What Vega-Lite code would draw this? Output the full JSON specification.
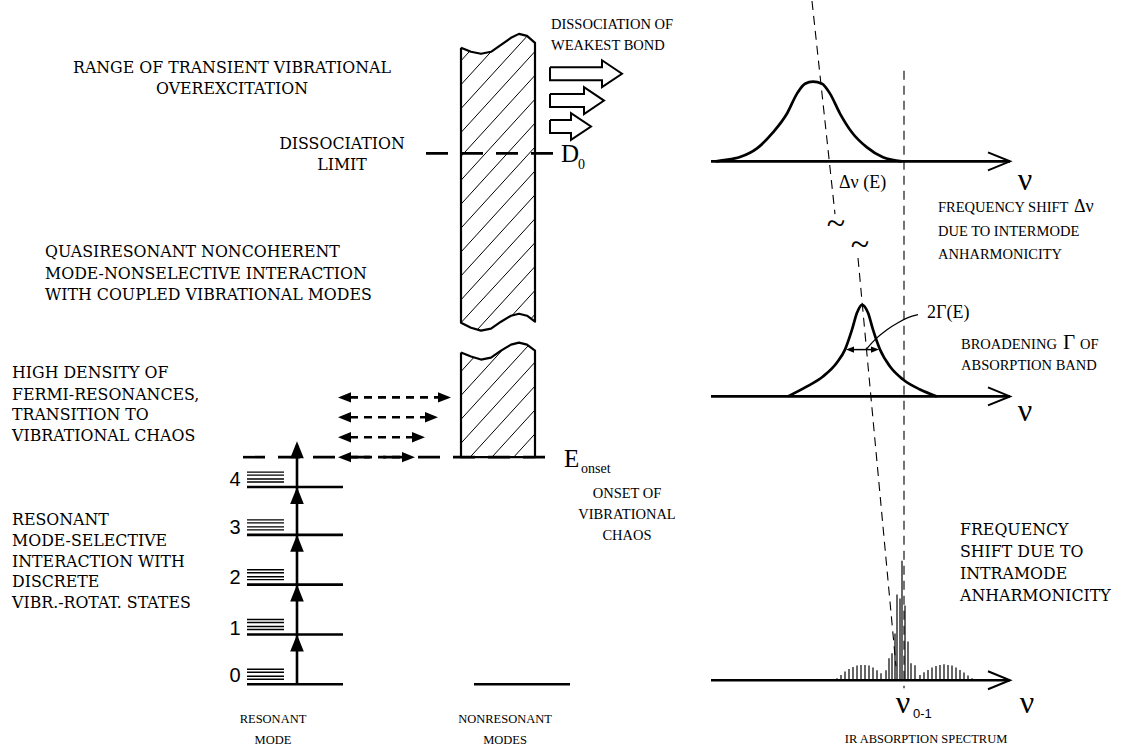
{
"$schema": "https://vega.github.io/schema/vega-lite/v6.json",
"width": 1136, "height": 747, "padding": 0,
"autosize": {"type": "fit", "contains": "padding"},
"background": "white",
"config": {"view": {"stroke": null}},
"datasets": {
"segs": [
{"k":"hatch","x":461,"y":60,"x2":469.6,"y2":50.5},
{"k":"hatch","x":461,"y":84,"x2":491,"y2":51},
{"k":"hatch","x":461,"y":108,"x2":527.2,"y2":35.2},
{"k":"hatch","x":461,"y":132,"x2":535,"y2":50.6},
{"k":"hatch","x":461,"y":156,"x2":535,"y2":74.6},
{"k":"hatch","x":461,"y":180,"x2":535,"y2":98.6},
{"k":"hatch","x":461,"y":204,"x2":535,"y2":122.6},
{"k":"hatch","x":461,"y":228,"x2":535,"y2":146.6},
{"k":"hatch","x":461,"y":252,"x2":535,"y2":170.6},
{"k":"hatch","x":461,"y":276,"x2":535,"y2":194.6},
{"k":"hatch","x":461,"y":300,"x2":535,"y2":218.6},
{"k":"hatch","x":461,"y":323,"x2":535,"y2":242.6},
{"k":"hatch","x":477.3,"y":330,"x2":535,"y2":266.6},
{"k":"hatch","x":512.5,"y":315.3,"x2":535,"y2":290.6},
{"k":"hatch","x":531,"y":319,"x2":535,"y2":314.6},
{"k":"hatch","x":461,"y":372,"x2":473.8,"y2":357.9},
{"k":"hatch","x":461,"y":396,"x2":503,"y2":349.8},
{"k":"hatch","x":461,"y":420,"x2":528.5,"y2":345.8},
{"k":"hatch","x":461,"y":444,"x2":535,"y2":362.6},
{"k":"hatch","x":470.1,"y":458,"x2":535,"y2":386.6},
{"k":"hatch","x":491.9,"y":458,"x2":535,"y2":410.6},
{"k":"hatch","x":513.7,"y":458,"x2":535,"y2":434.6},
{"k":"level","x":247,"y":488,"x2":343,"y2":488},
{"k":"level","x":247,"y":536,"x2":343,"y2":536},
{"k":"level","x":247,"y":586,"x2":343,"y2":586},
{"k":"level","x":247,"y":636,"x2":343,"y2":636},
{"k":"level","x":247,"y":686,"x2":343,"y2":686},
{"k":"level","x":474,"y":686,"x2":570,"y2":686},
{"k":"level","x":711,"y":161,"x2":1010,"y2":161},
{"k":"level","x":711,"y":397,"x2":1010,"y2":397},
{"k":"level","x":711,"y":682,"x2":1010,"y2":682},
{"k":"level","x":297,"y":686,"x2":297,"y2":446},
{"k":"rot","x":247,"y":473,"x2":284,"y2":473},
{"k":"rot","x":247,"y":476,"x2":284,"y2":476},
{"k":"rot","x":247,"y":480,"x2":284,"y2":480},
{"k":"rot","x":247,"y":483,"x2":284,"y2":483},
{"k":"rot","x":247,"y":521,"x2":284,"y2":521},
{"k":"rot","x":247,"y":524,"x2":284,"y2":524},
{"k":"rot","x":247,"y":528,"x2":284,"y2":528},
{"k":"rot","x":247,"y":531,"x2":284,"y2":531},
{"k":"rot","x":247,"y":571,"x2":284,"y2":571},
{"k":"rot","x":247,"y":574,"x2":284,"y2":574},
{"k":"rot","x":247,"y":578,"x2":284,"y2":578},
{"k":"rot","x":247,"y":581,"x2":284,"y2":581},
{"k":"rot","x":247,"y":621,"x2":284,"y2":621},
{"k":"rot","x":247,"y":624,"x2":284,"y2":624},
{"k":"rot","x":247,"y":628,"x2":284,"y2":628},
{"k":"rot","x":247,"y":631,"x2":284,"y2":631},
{"k":"rot","x":247,"y":671,"x2":284,"y2":671},
{"k":"rot","x":247,"y":674,"x2":284,"y2":674},
{"k":"rot","x":247,"y":678,"x2":284,"y2":678},
{"k":"rot","x":247,"y":681,"x2":284,"y2":681},
{"k":"dthick","x":426,"y":153,"x2":553,"y2":153},
{"k":"dthick","x":243,"y":458,"x2":556,"y2":458},
{"k":"darrow","x":350,"y":398,"x2":439,"y2":398},
{"k":"darrow","x":350,"y":418,"x2":426,"y2":418},
{"k":"darrow","x":350,"y":438,"x2":413,"y2":438},
{"k":"darrow","x":350,"y":458,"x2":403,"y2":458},
{"k":"dthin","x":812,"y":0,"x2":835,"y2":214},
{"k":"dthin","x":858,"y":258,"x2":896,"y2":668},
{"k":"dthin","x":904,"y":70,"x2":904,"y2":690},
{"k":"thin","x":851,"y":350,"x2":874,"y2":350},
{"k":"stick","x":837,"y":682,"x2":837,"y2":680},
{"k":"stick","x":841,"y":682,"x2":841,"y2":676.7},
{"k":"stick","x":845,"y":682,"x2":845,"y2":673.3},
{"k":"stick","x":849,"y":682,"x2":849,"y2":670.7},
{"k":"stick","x":853,"y":682,"x2":853,"y2":668.7},
{"k":"stick","x":857,"y":682,"x2":857,"y2":667.3},
{"k":"stick","x":861,"y":682,"x2":861,"y2":666.7},
{"k":"stick","x":865,"y":682,"x2":865,"y2":666.7},
{"k":"stick","x":869,"y":682,"x2":869,"y2":667.3},
{"k":"stick","x":873,"y":682,"x2":873,"y2":669.3},
{"k":"stick","x":877,"y":682,"x2":877,"y2":672},
{"k":"stick","x":881,"y":682,"x2":881,"y2":675},
{"k":"stick","x":886,"y":682,"x2":886,"y2":672},
{"k":"stick","x":889,"y":682,"x2":889,"y2":660},
{"k":"stick","x":892,"y":682,"x2":892,"y2":655},
{"k":"stick","x":895,"y":682,"x2":895,"y2":635},
{"k":"stick","x":897,"y":682,"x2":897,"y2":596},
{"k":"stick","x":900,"y":682,"x2":900,"y2":600},
{"k":"stick","x":902,"y":682,"x2":902,"y2":562},
{"k":"stick","x":905,"y":682,"x2":905,"y2":607},
{"k":"stick","x":908,"y":682,"x2":908,"y2":643},
{"k":"stick","x":911,"y":682,"x2":911,"y2":665},
{"k":"stick","x":915,"y":682,"x2":915,"y2":667},
{"k":"stick","x":920,"y":682,"x2":920,"y2":676.7},
{"k":"stick","x":924,"y":682,"x2":924,"y2":674},
{"k":"stick","x":928,"y":682,"x2":928,"y2":671.7},
{"k":"stick","x":932,"y":682,"x2":932,"y2":669.3},
{"k":"stick","x":936,"y":682,"x2":936,"y2":667.7},
{"k":"stick","x":940,"y":682,"x2":940,"y2":666.7},
{"k":"stick","x":944,"y":682,"x2":944,"y2":666},
{"k":"stick","x":948,"y":682,"x2":948,"y2":666.7},
{"k":"stick","x":952,"y":682,"x2":952,"y2":667.3},
{"k":"stick","x":956,"y":682,"x2":956,"y2":669.3},
{"k":"stick","x":960,"y":682,"x2":960,"y2":671.7},
{"k":"stick","x":964,"y":682,"x2":964,"y2":674.3},
{"k":"stick","x":968,"y":682,"x2":968,"y2":677.3},
{"k":"stick","x":972,"y":682,"x2":972,"y2":680}
],
"paths": [
{"g":"box","p":"ub","i":0,"x":461,"y":47},
{"g":"box","p":"ub","i":1,"x":461,"y":323},
{"g":"box","p":"ub","i":2,"x":471,"y":328},
{"g":"box","p":"ub","i":3,"x":481,"y":331},
{"g":"box","p":"ub","i":4,"x":491,"y":329},
{"g":"box","p":"ub","i":5,"x":501,"y":322},
{"g":"box","p":"ub","i":6,"x":511,"y":316},
{"g":"box","p":"ub","i":7,"x":519,"y":314},
{"g":"box","p":"ub","i":8,"x":527,"y":316},
{"g":"box","p":"ub","i":9,"x":535,"y":322},
{"g":"box","p":"ub","i":10,"x":535,"y":42},
{"g":"box","p":"ub","i":11,"x":527,"y":35},
{"g":"box","p":"ub","i":12,"x":519,"y":33},
{"g":"box","p":"ub","i":13,"x":511,"y":37},
{"g":"box","p":"ub","i":14,"x":501,"y":44},
{"g":"box","p":"ub","i":15,"x":491,"y":51},
{"g":"box","p":"ub","i":16,"x":481,"y":53},
{"g":"box","p":"ub","i":17,"x":471,"y":51},
{"g":"box","p":"ub","i":18,"x":461,"y":47},
{"g":"box","p":"lb","i":0,"x":461,"y":353},
{"g":"box","p":"lb","i":1,"x":461,"y":458},
{"g":"box","p":"lb","i":2,"x":535,"y":458},
{"g":"box","p":"lb","i":3,"x":535,"y":351},
{"g":"box","p":"lb","i":4,"x":527,"y":345},
{"g":"box","p":"lb","i":5,"x":519,"y":343},
{"g":"box","p":"lb","i":6,"x":511,"y":345},
{"g":"box","p":"lb","i":7,"x":501,"y":351},
{"g":"box","p":"lb","i":8,"x":491,"y":358},
{"g":"box","p":"lb","i":9,"x":481,"y":360},
{"g":"box","p":"lb","i":10,"x":471,"y":357},
{"g":"box","p":"lb","i":11,"x":461,"y":353},
{"g":"curve","p":"gt","i":0,"x":716,"y":161},
{"g":"curve","p":"gt","i":1,"x":722,"y":160},
{"g":"curve","p":"gt","i":2,"x":740,"y":156.7},
{"g":"curve","p":"gt","i":3,"x":757,"y":148},
{"g":"curve","p":"gt","i":4,"x":773,"y":132},
{"g":"curve","p":"gt","i":5,"x":787,"y":113},
{"g":"curve","p":"gt","i":6,"x":797,"y":93},
{"g":"curve","p":"gt","i":7,"x":805,"y":83},
{"g":"curve","p":"gt","i":8,"x":813,"y":81},
{"g":"curve","p":"gt","i":9,"x":822,"y":83},
{"g":"curve","p":"gt","i":10,"x":830,"y":93},
{"g":"curve","p":"gt","i":11,"x":840,"y":113},
{"g":"curve","p":"gt","i":12,"x":852,"y":132},
{"g":"curve","p":"gt","i":13,"x":867,"y":147},
{"g":"curve","p":"gt","i":14,"x":883,"y":157},
{"g":"curve","p":"gt","i":15,"x":902,"y":161},
{"g":"curve","p":"gm","i":0,"x":788,"y":397},
{"g":"curve","p":"gm","i":1,"x":807,"y":387},
{"g":"curve","p":"gm","i":2,"x":823,"y":377},
{"g":"curve","p":"gm","i":3,"x":837,"y":363},
{"g":"curve","p":"gm","i":4,"x":845,"y":350},
{"g":"curve","p":"gm","i":5,"x":852,"y":330},
{"g":"curve","p":"gm","i":6,"x":857,"y":313},
{"g":"curve","p":"gm","i":7,"x":862,"y":305},
{"g":"curve","p":"gm","i":8,"x":868,"y":313},
{"g":"curve","p":"gm","i":9,"x":873,"y":330},
{"g":"curve","p":"gm","i":10,"x":880,"y":350},
{"g":"curve","p":"gm","i":11,"x":890,"y":367},
{"g":"curve","p":"gm","i":12,"x":903,"y":380},
{"g":"curve","p":"gm","i":13,"x":920,"y":390},
{"g":"curve","p":"gm","i":14,"x":937,"y":397},
{"g":"block","p":"a1","i":0,"x":550,"y":66.5},
{"g":"block","p":"a1","i":1,"x":602,"y":66.5},
{"g":"block","p":"a1","i":2,"x":602,"y":59.5},
{"g":"block","p":"a1","i":3,"x":622,"y":73},
{"g":"block","p":"a1","i":4,"x":602,"y":86.5},
{"g":"block","p":"a1","i":5,"x":602,"y":79.5},
{"g":"block","p":"a1","i":6,"x":550,"y":79.5},
{"g":"block","p":"a1","i":7,"x":550,"y":66.5},
{"g":"block","p":"a2","i":0,"x":550,"y":93.5},
{"g":"block","p":"a2","i":1,"x":584,"y":93.5},
{"g":"block","p":"a2","i":2,"x":584,"y":86.5},
{"g":"block","p":"a2","i":3,"x":604,"y":100},
{"g":"block","p":"a2","i":4,"x":584,"y":113.5},
{"g":"block","p":"a2","i":5,"x":584,"y":106.5},
{"g":"block","p":"a2","i":6,"x":550,"y":106.5},
{"g":"block","p":"a2","i":7,"x":550,"y":93.5},
{"g":"block","p":"a3","i":0,"x":550,"y":119.5},
{"g":"block","p":"a3","i":1,"x":571,"y":119.5},
{"g":"block","p":"a3","i":2,"x":571,"y":112.5},
{"g":"block","p":"a3","i":3,"x":591,"y":126},
{"g":"block","p":"a3","i":4,"x":571,"y":139.5},
{"g":"block","p":"a3","i":5,"x":571,"y":132.5},
{"g":"block","p":"a3","i":6,"x":550,"y":132.5},
{"g":"block","p":"a3","i":7,"x":550,"y":119.5},
{"g":"chev","p":"c1","i":0,"x":988,"y":152},
{"g":"chev","p":"c1","i":1,"x":1010,"y":161},
{"g":"chev","p":"c1","i":2,"x":988,"y":170},
{"g":"chev","p":"c2","i":0,"x":988,"y":388},
{"g":"chev","p":"c2","i":1,"x":1010,"y":397},
{"g":"chev","p":"c2","i":2,"x":988,"y":406},
{"g":"chev","p":"c3","i":0,"x":988,"y":673},
{"g":"chev","p":"c3","i":1,"x":1010,"y":682},
{"g":"chev","p":"c3","i":2,"x":988,"y":691},
{"g":"pointer","p":"pt","i":0,"x":866,"y":350},
{"g":"pointer","p":"pt","i":1,"x":876,"y":339},
{"g":"pointer","p":"pt","i":2,"x":887,"y":330},
{"g":"pointer","p":"pt","i":3,"x":898,"y":323},
{"g":"pointer","p":"pt","i":4,"x":908,"y":318},
{"g":"pointer","p":"pt","i":5,"x":918,"y":315}
],
"heads": [
{"k":"big","x":297,"y":450.5,"a":0},
{"k":"big","x":297,"y":496.5,"a":0},
{"k":"big","x":297,"y":544.5,"a":0},
{"k":"big","x":297,"y":594.5,"a":0},
{"k":"big","x":297,"y":644.5,"a":0},
{"k":"small","x":344.5,"y":398,"a":270},
{"k":"small","x":344.5,"y":418,"a":270},
{"k":"small","x":344.5,"y":438,"a":270},
{"k":"small","x":344.5,"y":458,"a":270},
{"k":"small","x":444.5,"y":398,"a":90},
{"k":"small","x":431.5,"y":418,"a":90},
{"k":"small","x":418.5,"y":438,"a":90},
{"k":"small","x":408.5,"y":458,"a":90},
{"k":"tiny","x":850,"y":350,"a":270},
{"k":"tiny","x":875,"y":350,"a":90}
],
"labels": [
{"s":"bigC","t":"RANGE OF TRANSIENT VIBRATIONAL","x":232,"y":67},
{"s":"bigC","t":"OVEREXCITATION","x":232,"y":88},
{"s":"bigC","t":"DISSOCIATION","x":342,"y":144},
{"s":"bigC","t":"LIMIT","x":342,"y":165},
{"s":"bigL","t":"QUASIRESONANT NONCOHERENT","x":45,"y":252},
{"s":"bigL","t":"MODE-NONSELECTIVE INTERACTION","x":45,"y":274},
{"s":"bigL","t":"WITH COUPLED VIBRATIONAL MODES","x":45,"y":295},
{"s":"bigL","t":"HIGH DENSITY OF","x":12,"y":373},
{"s":"bigL","t":"FERMI-RESONANCES,","x":12,"y":396},
{"s":"bigL","t":"TRANSITION TO","x":12,"y":416},
{"s":"bigL","t":"VIBRATIONAL CHAOS","x":12,"y":437},
{"s":"bigL","t":"RESONANT","x":12,"y":521},
{"s":"bigL","t":"MODE-SELECTIVE","x":12,"y":542},
{"s":"bigL","t":"INTERACTION WITH","x":12,"y":563},
{"s":"bigL","t":"DISCRETE","x":12,"y":583},
{"s":"bigL","t":"VIBR.-ROTAT. STATES","x":12,"y":604},
{"s":"bigL","t":"FREQUENCY","x":960,"y":531},
{"s":"bigL","t":"SHIFT DUE TO","x":960,"y":553},
{"s":"bigL","t":"INTRAMODE","x":960,"y":575},
{"s":"bigL","t":"ANHARMONICITY","x":960,"y":597},
{"s":"smL","t":"DISSOCIATION OF","x":551,"y":24},
{"s":"smL","t":"WEAKEST BOND","x":551,"y":45},
{"s":"smL","t":"FREQUENCY SHIFT","x":938,"y":208},
{"s":"smL","t":"DUE TO INTERMODE","x":938,"y":232},
{"s":"smL","t":"ANHARMONICITY","x":938,"y":255},
{"s":"smL","t":"BROADENING","x":961,"y":345},
{"s":"smL","t":"OF","x":1080,"y":345},
{"s":"smL","t":"ABSORPTION BAND","x":961,"y":366},
{"s":"smC","t":"ONSET OF","x":627,"y":495},
{"s":"smC","t":"VIBRATIONAL","x":627,"y":516},
{"s":"smC","t":"CHAOS","x":627,"y":537},
{"s":"tinyC","t":"RESONANT","x":273,"y":721},
{"s":"tinyC","t":"MODE","x":273,"y":742},
{"s":"tinyC","t":"NONRESONANT","x":505,"y":721},
{"s":"tinyC","t":"MODES","x":505,"y":742},
{"s":"tinyC","t":"IR ABSORPTION SPECTRUM","x":926,"y":741},
{"s":"symL","t":"D","x":561,"y":154},
{"s":"symL","t":"E","x":564,"y":460},
{"s":"subL","t":"0","x":578,"y":165},
{"s":"subL","t":"onset","x":581,"y":470},
{"s":"nu","t":"ν","x":1025,"y":180},
{"s":"nu","t":"ν","x":1025,"y":412},
{"s":"nu","t":"ν","x":1027,"y":705},
{"s":"nu","t":"ν","x":903,"y":705},
{"s":"mathL","t":"Δν (E)","x":839,"y":183},
{"s":"mathL","t":"2Γ(E)","x":927,"y":313},
{"s":"mathL","t":"Δν","x":1074,"y":207},
{"s":"gam","t":"Γ","x":1063,"y":343},
{"s":"digit","t":"4","x":235,"y":481},
{"s":"digit","t":"3","x":235,"y":529},
{"s":"digit","t":"2","x":235,"y":579},
{"s":"digit","t":"1","x":235,"y":631},
{"s":"digit","t":"0","x":235,"y":678},
{"s":"sansSub","t":"0-1","x":913,"y":716},
{"s":"tilde","t":"~","x":836,"y":224},
{"s":"tilde","t":"~","x":860,"y":245}
]
},
"layer": [
{"data":{"name":"segs"},"transform":[{"filter":"datum.k==='hatch'"}],"mark":{"type":"rule","strokeWidth":1,"color":"black"},
 "encoding":{"x":{"field":"x","type":"quantitative","scale":{"domain":[0,1136],"nice":false,"zero":false},"axis":null},"y":{"field":"y","type":"quantitative","scale":{"domain":[0,747],"nice":false,"zero":false,"reverse":true},"axis":null},"x2":{"field":"x2"},"y2":{"field":"y2"}}},
{"data":{"name":"segs"},"transform":[{"filter":"datum.k==='level'"}],"mark":{"type":"rule","strokeWidth":2.6,"color":"black"},
 "encoding":{"x":{"field":"x","type":"quantitative"},"y":{"field":"y","type":"quantitative"},"x2":{"field":"x2"},"y2":{"field":"y2"}}},
{"data":{"name":"segs"},"transform":[{"filter":"datum.k==='rot'"}],"mark":{"type":"rule","strokeWidth":1.4,"color":"black"},
 "encoding":{"x":{"field":"x","type":"quantitative"},"y":{"field":"y","type":"quantitative"},"x2":{"field":"x2"},"y2":{"field":"y2"}}},
{"data":{"name":"segs"},"transform":[{"filter":"datum.k==='dthick'"}],"mark":{"type":"rule","strokeWidth":2.6,"color":"black","strokeDash":[22,13]},
 "encoding":{"x":{"field":"x","type":"quantitative"},"y":{"field":"y","type":"quantitative"},"x2":{"field":"x2"},"y2":{"field":"y2"}}},
{"data":{"name":"segs"},"transform":[{"filter":"datum.k==='darrow'"}],"mark":{"type":"rule","strokeWidth":2.6,"color":"black","strokeDash":[8,6]},
 "encoding":{"x":{"field":"x","type":"quantitative"},"y":{"field":"y","type":"quantitative"},"x2":{"field":"x2"},"y2":{"field":"y2"}}},
{"data":{"name":"segs"},"transform":[{"filter":"datum.k==='dthin'"}],"mark":{"type":"rule","strokeWidth":1.1,"color":"black","strokeDash":[9,6]},
 "encoding":{"x":{"field":"x","type":"quantitative"},"y":{"field":"y","type":"quantitative"},"x2":{"field":"x2"},"y2":{"field":"y2"}}},
{"data":{"name":"segs"},"transform":[{"filter":"datum.k==='stick'"}],"mark":{"type":"rule","strokeWidth":1.2,"color":"black"},
 "encoding":{"x":{"field":"x","type":"quantitative"},"y":{"field":"y","type":"quantitative"},"x2":{"field":"x2"},"y2":{"field":"y2"}}},
{"data":{"name":"segs"},"transform":[{"filter":"datum.k==='thin'"}],"mark":{"type":"rule","strokeWidth":1.5,"color":"black"},
 "encoding":{"x":{"field":"x","type":"quantitative"},"y":{"field":"y","type":"quantitative"},"x2":{"field":"x2"},"y2":{"field":"y2"}}},
{"data":{"name":"paths"},"transform":[{"filter":"datum.g==='box'"}],"mark":{"type":"line","strokeWidth":2.2,"color":"black","interpolate":"linear","strokeJoin":"round"},
 "encoding":{"x":{"field":"x","type":"quantitative"},"y":{"field":"y","type":"quantitative"},"detail":{"field":"p"},"order":{"field":"i","type":"quantitative"}}},
{"data":{"name":"paths"},"transform":[{"filter":"datum.g==='curve'"}],"mark":{"type":"line","strokeWidth":2.7,"color":"black","interpolate":"monotone"},
 "encoding":{"x":{"field":"x","type":"quantitative"},"y":{"field":"y","type":"quantitative"},"detail":{"field":"p"},"order":{"field":"i","type":"quantitative"}}},
{"data":{"name":"paths"},"transform":[{"filter":"datum.g==='block' || datum.g==='chev'"}],"mark":{"type":"line","strokeWidth":2,"color":"black","interpolate":"linear","strokeJoin":"miter"},
 "encoding":{"x":{"field":"x","type":"quantitative"},"y":{"field":"y","type":"quantitative"},"detail":{"field":"p"},"order":{"field":"i","type":"quantitative"}}},
{"data":{"name":"paths"},"transform":[{"filter":"datum.g==='pointer'"}],"mark":{"type":"line","strokeWidth":1.3,"color":"black","interpolate":"monotone"},
 "encoding":{"x":{"field":"x","type":"quantitative"},"y":{"field":"y","type":"quantitative"},"detail":{"field":"p"},"order":{"field":"i","type":"quantitative"}}},
{"data":{"name":"heads"},"transform":[{"filter":"datum.k==='big'"}],"mark":{"type":"point","shape":"M0,-1L0.8,1L-0.8,1Z","filled":true,"size":289,"color":"black","opacity":1,"strokeWidth":0},
 "encoding":{"x":{"field":"x","type":"quantitative"},"y":{"field":"y","type":"quantitative"},"angle":{"field":"a","type":"quantitative","scale":null}}},
{"data":{"name":"heads"},"transform":[{"filter":"datum.k==='small'"}],"mark":{"type":"point","shape":"M0,-1L0.8,1L-0.8,1Z","filled":true,"size":169,"color":"black","opacity":1,"strokeWidth":0},
 "encoding":{"x":{"field":"x","type":"quantitative"},"y":{"field":"y","type":"quantitative"},"angle":{"field":"a","type":"quantitative","scale":null}}},
{"data":{"name":"heads"},"transform":[{"filter":"datum.k==='tiny'"}],"mark":{"type":"point","shape":"M0,-1L0.8,1L-0.8,1Z","filled":true,"size":64,"color":"black","opacity":1,"strokeWidth":0},
 "encoding":{"x":{"field":"x","type":"quantitative"},"y":{"field":"y","type":"quantitative"},"angle":{"field":"a","type":"quantitative","scale":null}}},
{"data":{"name":"labels"},"transform":[{"filter":"datum.s==='bigC'"}],"mark":{"type":"text","font":"DejaVu Serif","fontSize":15.8,"align":"center","baseline":"middle","color":"black"},
 "encoding":{"x":{"field":"x","type":"quantitative"},"y":{"field":"y","type":"quantitative"},"text":{"field":"t"}}},
{"data":{"name":"labels"},"transform":[{"filter":"datum.s==='bigL'"}],"mark":{"type":"text","font":"DejaVu Serif","fontSize":15.8,"align":"left","baseline":"middle","color":"black"},
 "encoding":{"x":{"field":"x","type":"quantitative"},"y":{"field":"y","type":"quantitative"},"text":{"field":"t"}}},
{"data":{"name":"labels"},"transform":[{"filter":"datum.s==='smL'"}],"mark":{"type":"text","font":"Liberation Serif","fontSize":14.5,"align":"left","baseline":"middle","color":"black"},
 "encoding":{"x":{"field":"x","type":"quantitative"},"y":{"field":"y","type":"quantitative"},"text":{"field":"t"}}},
{"data":{"name":"labels"},"transform":[{"filter":"datum.s==='smC'"}],"mark":{"type":"text","font":"Liberation Serif","fontSize":14.5,"align":"center","baseline":"middle","color":"black"},
 "encoding":{"x":{"field":"x","type":"quantitative"},"y":{"field":"y","type":"quantitative"},"text":{"field":"t"}}},
{"data":{"name":"labels"},"transform":[{"filter":"datum.s==='tinyC'"}],"mark":{"type":"text","font":"Liberation Serif","fontSize":12.5,"align":"center","baseline":"middle","color":"black"},
 "encoding":{"x":{"field":"x","type":"quantitative"},"y":{"field":"y","type":"quantitative"},"text":{"field":"t"}}},
{"data":{"name":"labels"},"transform":[{"filter":"datum.s==='symL'"}],"mark":{"type":"text","font":"Liberation Serif","fontSize":25,"align":"left","baseline":"middle","color":"black"},
 "encoding":{"x":{"field":"x","type":"quantitative"},"y":{"field":"y","type":"quantitative"},"text":{"field":"t"}}},
{"data":{"name":"labels"},"transform":[{"filter":"datum.s==='subL'"}],"mark":{"type":"text","font":"Liberation Serif","fontSize":14,"align":"left","baseline":"middle","color":"black"},
 "encoding":{"x":{"field":"x","type":"quantitative"},"y":{"field":"y","type":"quantitative"},"text":{"field":"t"}}},
{"data":{"name":"labels"},"transform":[{"filter":"datum.s==='nu'"}],"mark":{"type":"text","font":"Liberation Serif","fontSize":32,"align":"center","baseline":"middle","color":"black"},
 "encoding":{"x":{"field":"x","type":"quantitative"},"y":{"field":"y","type":"quantitative"},"text":{"field":"t"}}},
{"data":{"name":"labels"},"transform":[{"filter":"datum.s==='mathL'"}],"mark":{"type":"text","font":"Liberation Serif","fontSize":18,"align":"left","baseline":"middle","color":"black"},
 "encoding":{"x":{"field":"x","type":"quantitative"},"y":{"field":"y","type":"quantitative"},"text":{"field":"t"}}},
{"data":{"name":"labels"},"transform":[{"filter":"datum.s==='gam'"}],"mark":{"type":"text","font":"Liberation Serif","fontSize":21,"align":"left","baseline":"middle","color":"black"},
 "encoding":{"x":{"field":"x","type":"quantitative"},"y":{"field":"y","type":"quantitative"},"text":{"field":"t"}}},
{"data":{"name":"labels"},"transform":[{"filter":"datum.s==='digit'"}],"mark":{"type":"text","font":"Liberation Sans","fontSize":20,"align":"center","baseline":"middle","color":"black"},
 "encoding":{"x":{"field":"x","type":"quantitative"},"y":{"field":"y","type":"quantitative"},"text":{"field":"t"}}},
{"data":{"name":"labels"},"transform":[{"filter":"datum.s==='sansSub'"}],"mark":{"type":"text","font":"Liberation Sans","fontSize":13,"align":"left","baseline":"middle","color":"black"},
 "encoding":{"x":{"field":"x","type":"quantitative"},"y":{"field":"y","type":"quantitative"},"text":{"field":"t"}}},
{"data":{"name":"labels"},"transform":[{"filter":"datum.s==='tilde'"}],"mark":{"type":"text","font":"Liberation Serif","fontSize":34,"align":"center","baseline":"middle","color":"black"},
 "encoding":{"x":{"field":"x","type":"quantitative"},"y":{"field":"y","type":"quantitative"},"text":{"field":"t"}}}
]
}
